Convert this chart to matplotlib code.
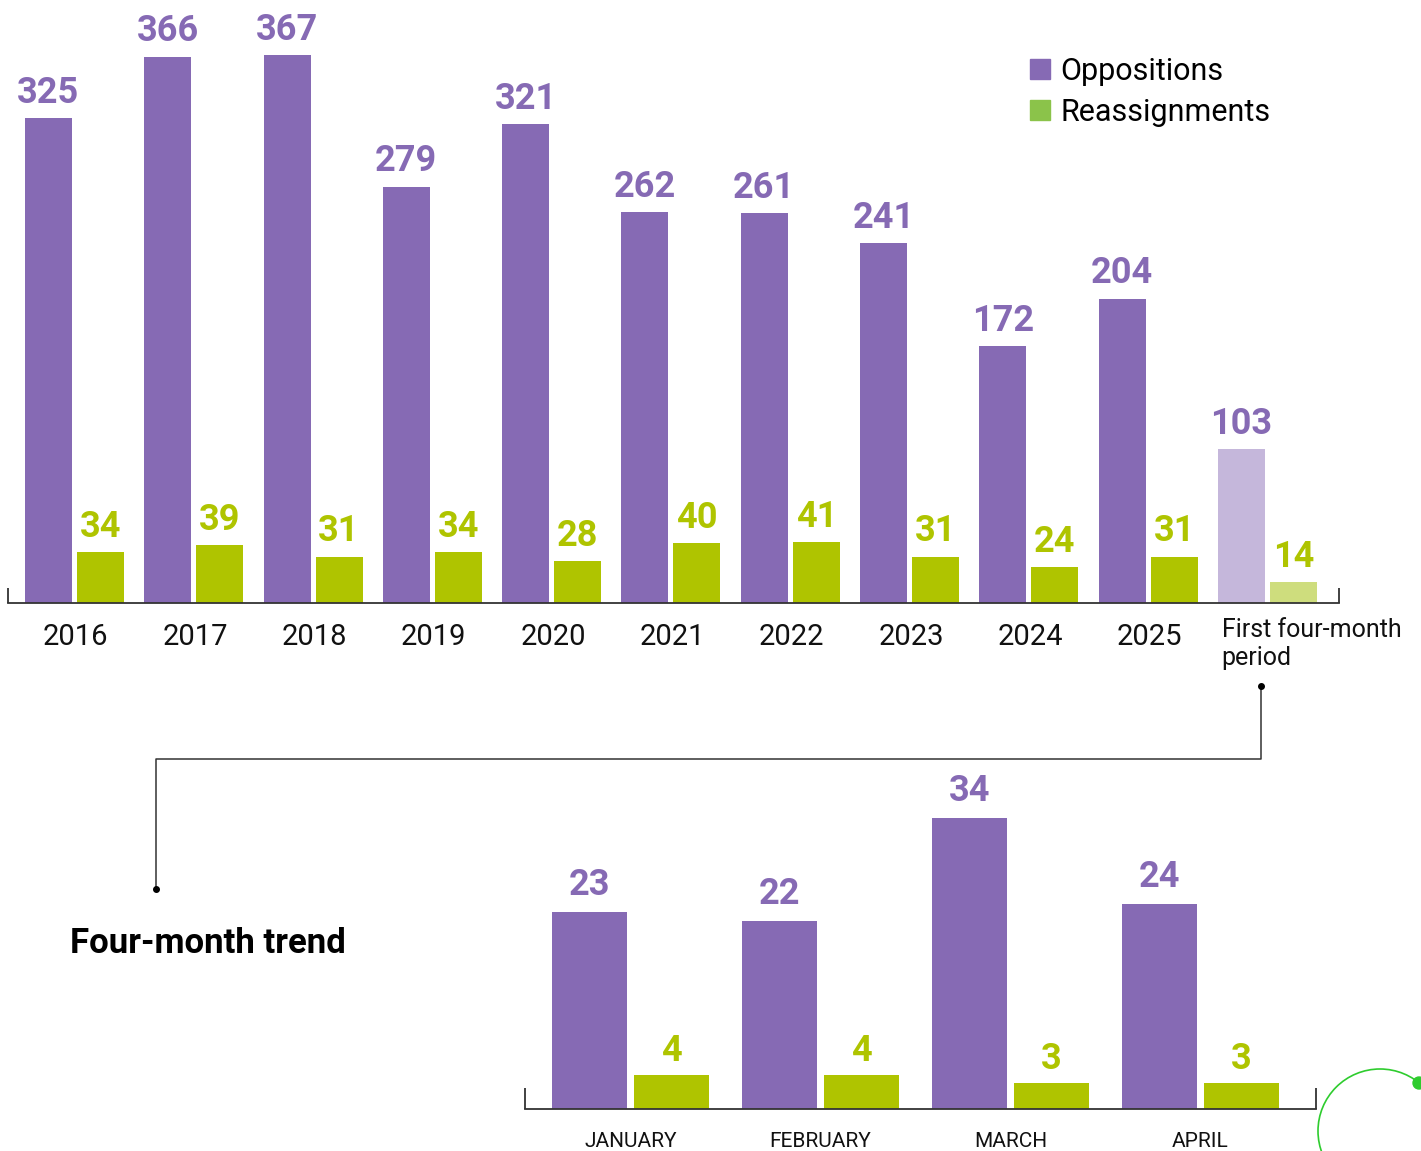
import numpy as np
import matplotlib
matplotlib.use("Agg")
import matplotlib.pyplot as plt
from matplotlib.patches import Patch, Circle

plt.rcParams['font.family'] = ['Roboto', 'DejaVu Sans']

# yearly totals
periods = ['2016', '2017', '2018', '2019', '2020', '2021', '2022', '2023',
           '2024', '2025', 'First four-month\nperiod']
oppositions = [325, 366, 367, 279, 321, 262, 261, 241, 172, 204, 103]
reassignments = [34, 39, 31, 34, 28, 40, 41, 31, 24, 31, 14]

# monthly breakdown of the first four months
months = ['JANUARY', 'FEBRUARY', 'MARCH', 'APRIL']
month_oppositions = [23, 22, 34, 24]
month_reassignments = [4, 4, 3, 3]

PURPLE = '#866ab4'
PURPLE_LIGHT = '#c5b7db'
GREEN = '#afc400'
GREEN_LIGHT = '#cedd7d'
LEGEND_GREEN = '#8bc34a'
LINE = '#333333'

W, H = 1421, 1151
fig = plt.figure(figsize=(W / 100, H / 100), dpi=100)


def px_axes(left, top, right, bottom, **kw):
    return fig.add_axes([left / W, 1 - bottom / H, (right - left) / W, (bottom - top) / H], **kw)


def style_base(ax):
    for s in ['top', 'right', 'left']:
        ax.spines[s].set_visible(False)
    ax.spines['bottom'].set_color(LINE)
    ax.spines['bottom'].set_linewidth(1.3)
    ax.set_yticks([])
    ax.set_xticks([])
    ax.patch.set_alpha(0)


def end_ticks(ax, height):
    x0, x1 = ax.get_xlim()
    for x in (x0, x1):
        ax.plot([x, x], [0, height], color=LINE, lw=1.3, clip_on=False,
                solid_capstyle='butt')


# ---- top chart: yearly ----
ax = px_axes(8, 0, 1339, 603)
style_base(ax)
x = np.arange(len(periods))
bw, off = 0.394, 0.218
opp_colors = [PURPLE] * (len(periods) - 1) + [PURPLE_LIGHT]
rea_colors = [GREEN] * (len(periods) - 1) + [GREEN_LIGHT]
ax.bar(x - off, oppositions, bw, color=opp_colors, zorder=2)
ax.bar(x + off, reassignments, bw, color=rea_colors, zorder=2)
ax.set_xlim(-0.557, 10.6)
ax.set_ylim(0, 404)

for xi, v in zip(x, oppositions):
    ax.annotate(str(v), (xi - off, v), xytext=(0, 11), textcoords='offset points',
                ha='center', va='baseline', fontsize=26, fontweight='bold',
                color=PURPLE, annotation_clip=False)
for xi, v in zip(x, reassignments):
    ax.annotate(str(v), (xi + off, v), xytext=(0, 11), textcoords='offset points',
                ha='center', va='baseline', fontsize=26, fontweight='bold',
                color=GREEN, annotation_clip=False)

for xi, lab in zip(x[:-1], periods[:-1]):
    ax.annotate(lab, (xi, 0), xytext=(1, -30), textcoords='offset points',
                ha='center', va='baseline', fontsize=21, color='#111111',
                annotation_clip=False)
ax.annotate(periods[-1], (x[-1], 0), xytext=(-33, -11), textcoords='offset points',
            ha='left', va='top', fontsize=18, color='#111111', linespacing=1.2,
            annotation_clip=False)
end_ticks(ax, 10)

handles = [Patch(color=PURPLE, label='Oppositions'),
           Patch(color=LEGEND_GREEN, label='Reassignments')]
fig.legend(handles=handles, loc='upper left', bbox_to_anchor=(1030 / W, 1 - 57 / H),
           frameon=False, fontsize=22, handlelength=0.65, handleheight=0.65,
           handletextpad=0.35, labelspacing=0.38, borderpad=0, borderaxespad=0)

# ---- bottom chart: monthly ----
bx = px_axes(525, 760, 1316, 1109)
style_base(bx)
m = np.arange(len(months))
mbw, moff = 0.395, 0.216
bx.bar(m - moff, month_oppositions, mbw, color=PURPLE, zorder=2)
bx.bar(m + moff, month_reassignments, mbw, color=GREEN, zorder=2)
bx.set_xlim(-0.555, 3.608)
bx.set_ylim(0, 40.77)

for mi, v in zip(m, month_oppositions):
    bx.annotate(str(v), (mi - moff, v), xytext=(0, 12), textcoords='offset points',
                ha='center', va='baseline', fontsize=26, fontweight='bold',
                color=PURPLE, annotation_clip=False)
for mi, v in zip(m, month_reassignments):
    bx.annotate(str(v), (mi + moff, v), xytext=(0, 10), textcoords='offset points',
                ha='center', va='baseline', fontsize=26, fontweight='bold',
                color=GREEN, annotation_clip=False)
for mi, lab in zip(m, months):
    bx.annotate(lab, (mi, 0), xytext=(0, -27.5), textcoords='offset points',
                ha='center', va='baseline', fontsize=15, color='#111111',
                annotation_clip=False)
end_ticks(bx, 2.4)

# ---- connector, heading and decoration ----
ov = fig.add_axes([0, 0, 1, 1], zorder=-1)
ov.set_xlim(0, W)
ov.set_ylim(H, 0)
ov.axis('off')
ov.plot([1261, 1261, 156, 156], [686, 759, 759, 889], color=LINE, lw=1.1)
ov.plot([1261, 156], [686, 889], 'o', color='black', ms=4)
ov.text(70, 953, 'Four-month trend', fontsize=25, fontweight='bold',
        ha='left', va='baseline', color='black')
ov.add_patch(Circle((1380, 1131), 62, fill=False, ec='#2ecc2e', lw=1.2))
ov.add_patch(Circle((1419, 1083), 6, color='#2ecc2e'))

fig.savefig('out.png', dpi=100)
